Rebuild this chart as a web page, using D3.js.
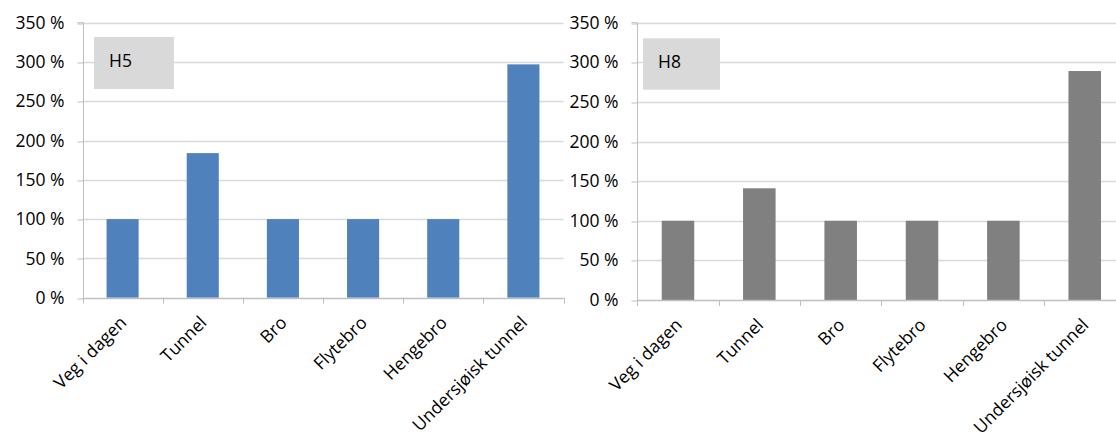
<!DOCTYPE html>
<html>
<head>
<meta charset="utf-8">
<script src="https://cdn.jsdelivr.net/npm/d3@7"></script>
<style>
  html, body { margin: 0; padding: 0; background: #fff; }
  svg { display: block; font-family: "Open Sans", sans-serif; }
</style>
</head>
<body>
<svg id="chart" width="1116" height="434"></svg>
<script>
const categories = ["Veg i dagen", "Tunnel", "Bro", "Flytebro", "Hengebro", "Undersjøisk tunnel"];
const valuesH5 = [100, 184, 100, 100, 100, 297];
const valuesH8 = [100, 141, 100, 100, 100, 289];
const yTicks = [0, 50, 100, 150, 200, 250, 300, 350];
const panelLabels = ["H5", "H8"];

const svg = d3.select("#chart");
const fontSize = 17.5;
const fontFamily = "'Open Sans', sans-serif";

function drawPanel(opts) {
  const g = svg.append("g");
  const x = d3.scaleBand().domain(categories).range([opts.x0, opts.x1]).paddingInner(0.6).paddingOuter(0.3);
  const xb = d3.scaleBand().domain(categories).range([opts.x0, opts.x1]);
  const y = d3.scaleLinear().domain([0, 350]).range([opts.yBottom, opts.yTop]);

  // gridlines
  g.append("g").selectAll("line").data(yTicks.filter(d => d > 0)).join("line")
    .attr("x1", opts.x0).attr("x2", opts.gridEnd)
    .attr("y1", d => Math.round(y(d)) + 0.5).attr("y2", d => Math.round(y(d)) + 0.5)
    .attr("stroke", "#d9d9d9").attr("stroke-width", 1.3);

  // y axis
  const yAxis = d3.axisLeft(y).tickValues(yTicks).tickSize(6).tickPadding(13)
    .tickFormat(d => d + " %");
  const ya = g.append("g").attr("transform", `translate(${Math.round(opts.x0) + 0.5},0)`).call(yAxis);
  ya.select(".domain").attr("stroke", "#bfbfbf").attr("d", `M-6,${opts.yTop}H0V${opts.yBottom}`);
  ya.selectAll(".tick line").attr("stroke", "#bfbfbf").attr("transform", d => `translate(0,${Math.round(y(d)) + 0.5 - y(d)})`);
  ya.selectAll(".tick text").attr("font-size", fontSize).attr("fill", "#000")
    .attr("font-family", fontFamily);

  // bars
  g.append("g").selectAll("rect").data(opts.values).join("rect")
    .attr("x", (d, i) => x(categories[i]))
    .attr("width", x.bandwidth())
    .attr("y", d => y(d))
    .attr("height", d => y(0) - y(d))
    .attr("fill", opts.color);

  // x axis line
  g.append("line").attr("x1", opts.x0).attr("x2", opts.gridEnd)
    .attr("y1", Math.round(opts.yBottom) + 0.5).attr("y2", Math.round(opts.yBottom) + 0.5)
    .attr("stroke", "#bfbfbf").attr("stroke-width", 1.3);
  // x ticks at category boundaries
  const bounds = categories.map(c => xb(c)).concat([opts.x1]);
  g.append("g").selectAll("line").data(bounds.filter(b => b <= 1116)).join("line")
    .attr("x1", d => Math.round(d) + 0.5).attr("x2", d => Math.round(d) + 0.5)
    .attr("y1", opts.yBottom).attr("y2", opts.yBottom + 6)
    .attr("stroke", "#bfbfbf");

  // rotated category labels
  g.append("g").selectAll("text").data(categories).join("text")
    .attr("transform", c => `translate(${xb(c) + xb.bandwidth() / 2 + 5},${opts.yBottom + 26}) rotate(-45)`)
    .attr("text-anchor", "end")
    .attr("font-size", fontSize)
    .attr("font-family", fontFamily)
    .attr("fill", "#000")
    .text(c => c);

  // panel label box
  g.append("rect").attr("x", opts.boxX).attr("y", opts.boxY).attr("width", opts.boxW).attr("height", opts.boxH)
    .attr("fill", "#d9d9d9");
  g.append("text").attr("x", opts.boxX + 15).attr("y", opts.boxY + 29.5)
    .attr("font-size", fontSize).attr("font-family", fontFamily).attr("fill", "#000").text(opts.label);
}

drawPanel({ x0: 82.5, x1: 563.5, gridEnd: 563.5, yTop: 22.7, yBottom: 297.7,
  values: valuesH5, color: "#4f81bd", label: panelLabels[0],
  boxX: 94, boxY: 37, boxW: 80, boxH: 52 });
drawPanel({ x0: 637.3, x1: 1125.4, gridEnd: 1116, yTop: 22.7, yBottom: 300,
  values: valuesH8, color: "#808080", label: panelLabels[1],
  boxX: 643, boxY: 38.3, boxW: 77, boxH: 51.4 });
</script>
</body>
</html>
